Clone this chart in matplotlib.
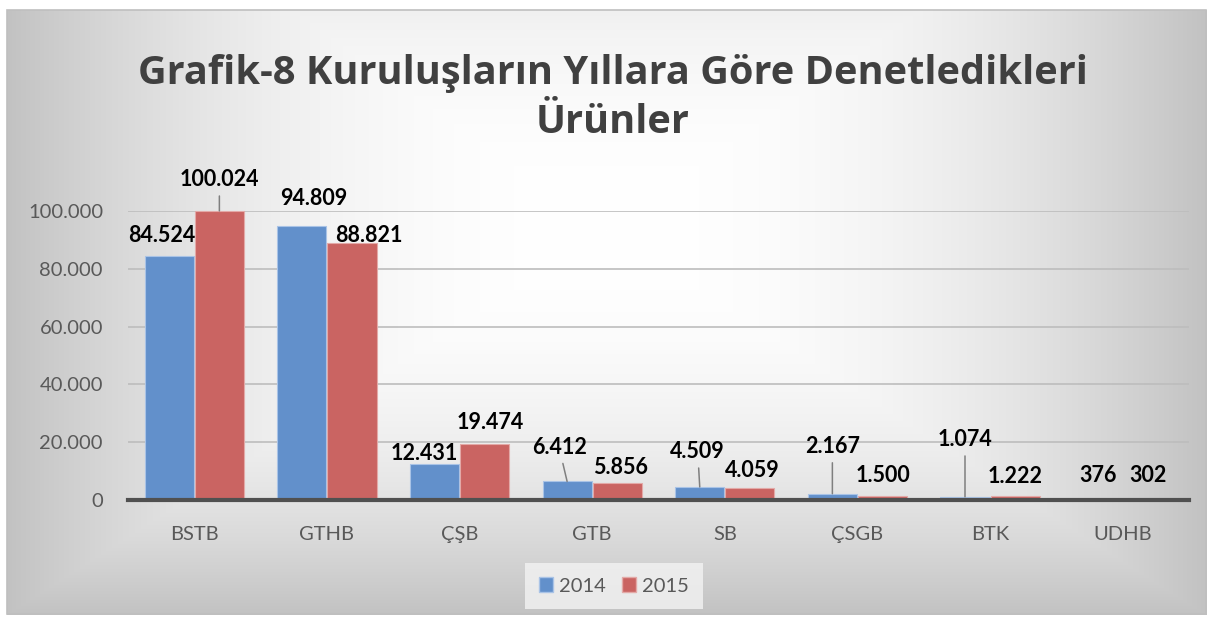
import numpy as np
import matplotlib
matplotlib.use("Agg")
import matplotlib.pyplot as plt
from matplotlib.patches import Rectangle, Patch

# ---- data ----
categories = ["BSTB", "GTHB", "ÇŞB", "GTB", "SB", "ÇSGB", "BTK", "UDHB"]
values_2014 = [84524, 94809, 12431, 6412, 4509, 2167, 1074, 376]
values_2015 = [100024, 88821, 19474, 5856, 4059, 1500, 1222, 302]
series_names = ["2014", "2015"]
labels_2014 = ["84.524", "94.809", "12.431", "6.412", "4.509", "2.167", "1.074", "376"]
labels_2015 = ["100.024", "88.821", "19.474", "5.856", "4.059", "1.500", "1.222", "302"]
y_ticks = [0, 20000, 40000, 60000, 80000, 100000]
y_tick_labels = ["0", "20.000", "40.000", "60.000", "80.000", "100.000"]
title = "Grafik-8 Kuruluşların Yıllara Göre Denetledikleri\nÜrünler"

# ---- label placement (pixel offsets from bar top), leader flags ----
off_2014 = [(-7, 20), (12, 28), (-10, 11), (-8, 34), (-2, 35), (0, 47), (0, 57), (0, 23)]
off_2015 = [(0, 31), (17, 8), (6, 21), (3, 16), (2, 18), (0, 20), (0, 20), (0, 24)]
lead_2014 = [False, False, False, True, True, True, True, False]
lead_2015 = [True, False, False, False, False, False, False, False]

W, H = 1213, 619
fig = plt.figure(figsize=(W / 100, H / 100), dpi=100, facecolor="white")

# ---- background gradient with frame ----
bg = fig.add_axes([0, 0, 1, 1], zorder=-10)
yy, xx = np.mgrid[0:H, 0:W].astype(float)
cx, cy = 606.0, 230.0
u = np.abs(xx - cx) / 600.0
v = np.where(yy < cy, (cy - yy) / 420.0, (yy - cy) / 385.0)
d = np.maximum(u, v)
val = 1.0 - 0.24 * np.clip(d, 0, 1) ** 2.2
inside = (xx >= 7) & (xx <= 1206) & (yy >= 10) & (yy <= 614)
val = np.where(inside, val, 1.0)
img = np.dstack([val, val, val])
bg.imshow(img, extent=(0, W, H, 0), aspect="auto", interpolation="bilinear")
bg.add_patch(Rectangle((7, 10), 1199, 604, fill=False, edgecolor="#bfbfbf", lw=1.2))
bg.set_xlim(0, W)
bg.set_ylim(H, 0)
bg.axis("off")

# ---- main axes ----
left, right, base, top = 128, 1189, 500, 211
ax = fig.add_axes([left / W, (H - base) / H, (right - left) / W, (base - top) / H])
ax.set_facecolor("none")

x = np.arange(len(categories))
bw = 0.37
dx = 0.189
blue = "#6290cb"
red = "#ca6462"
b1 = ax.bar(x - dx, values_2014, bw, color=blue, edgecolor="#a9c3e6", lw=0.8, zorder=3, clip_on=False)
b2 = ax.bar(x + dx, values_2015, bw, color=red, edgecolor="#e3a9a7", lw=0.8, zorder=3, clip_on=False)

ax.set_xlim(-0.5, len(categories) - 0.5)
ax.set_ylim(0, 100000)
ax.set_yticks(y_ticks)
ax.set_yticklabels(y_tick_labels)
ax.set_xticks(x)
ax.set_xticklabels(categories)
ax.tick_params(axis="both", length=0, labelsize=14.5, labelcolor="#595959")
ax.tick_params(axis="y", pad=18)
ax.tick_params(axis="x", pad=19)
for lab in ax.get_xticklabels() + ax.get_yticklabels():
    lab.set_fontfamily("Lato")
ax.grid(axis="y", color="#bdbdbd", lw=1.2, zorder=0)
ax.set_axisbelow(True)
for s in ["top", "right", "left"]:
    ax.spines[s].set_visible(False)
ax.spines["bottom"].set_color("#505050")
ax.spines["bottom"].set_linewidth(3)
ax.spines["bottom"].set_zorder(4)

def put_labels(xs, vals, labs, offs, leads):
    for xi, v, lab, (ox, oy), ld in zip(xs, vals, labs, offs, leads):
        kw = {}
        if ld:
            kw["arrowprops"] = dict(arrowstyle="-", color="#7f7f7f", lw=1.1,
                                    shrinkA=2, shrinkB=0)
        ax.annotate(lab, xy=(xi, v), xytext=(ox, oy), textcoords="offset pixels",
                    ha="center", va="center", fontsize=15.5, fontweight="bold",
                    family="Lato", color="black", zorder=6, annotation_clip=False, **kw)

put_labels(x - dx, values_2014, labels_2014, off_2014, lead_2014)
put_labels(x + dx, values_2015, labels_2015, off_2015, lead_2015)

# ---- title ----
fig.text(613 / W, 1 - 98 / H, title, ha="center", va="center", fontsize=28.6,
         fontweight="bold", family="Open Sans", color="#404040", linespacing=1.32)

# ---- legend ----
handles = [Patch(facecolor=blue, edgecolor="#a9c3e6"), Patch(facecolor=red, edgecolor="#e3a9a7")]
leg = fig.legend(handles, series_names, loc="center", bbox_to_anchor=(614 / W, 1 - 586 / H),
                 ncol=2, frameon=True, fancybox=False, handlelength=0.7, handleheight=0.7,
                 handletextpad=0.3, columnspacing=0.8, borderpad=0.7,
                 prop={"family": "Lato", "size": 14.5})
leg.get_frame().set_facecolor("#f3f3f3")
leg.get_frame().set_edgecolor("none")
for t in leg.get_texts():
    t.set_color("#595959")

fig.savefig("out.png", dpi=100, facecolor="white")
